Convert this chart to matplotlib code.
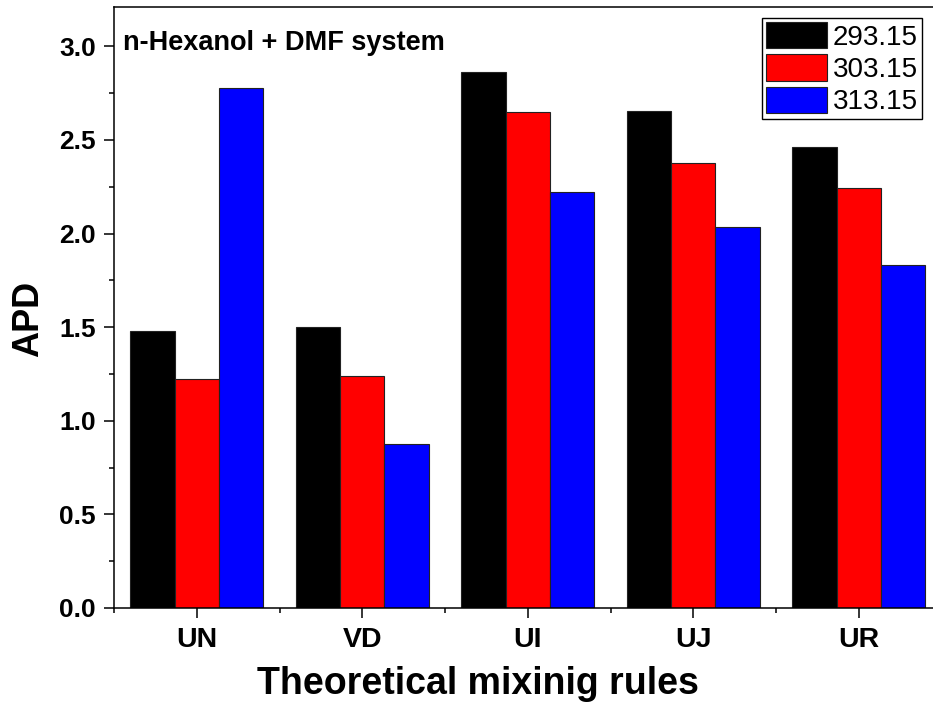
import numpy as np
import matplotlib
matplotlib.use("Agg")
import matplotlib.pyplot as plt
from matplotlib.ticker import MultipleLocator, FixedLocator, FormatStrFormatter

plt.rcParams['font.family'] = ['Liberation Sans', 'DejaVu Sans']

rules = ['UN', 'VD', 'UI', 'UJ', 'UR']
temps = ['293.15', '303.15', '313.15']
apd_293 = [1.48, 1.50, 2.863, 2.655, 2.461]
apd_303 = [1.225, 1.24, 2.65, 2.378, 2.243]
apd_313 = [2.775, 0.875, 2.222, 2.037, 1.832]
colors = ['#000000', '#ff0000', '#0000ff']

fig = plt.figure(figsize=(9.33, 7.09), dpi=100)
ax = fig.add_axes([0.1222, 0.1425, 0.887, 0.8477])

x = np.arange(len(rules))
w = 0.268
for i, (vals, lab, c) in enumerate(zip([apd_293, apd_303, apd_313], temps, colors)):
    ax.bar(x + (i - 1) * w, vals, width=w, color=c, edgecolor='#222222',
           linewidth=0.8, label=lab)

ax.set_xlim(-0.5, 4.5)
ax.set_ylim(0, 3.21)
ax.set_xticks(x)
ax.set_xticklabels(rules, fontsize=20.5, fontweight='bold')
ax.xaxis.set_minor_locator(FixedLocator(np.arange(-0.5, 4.6, 1.0)))
ax.yaxis.set_major_locator(MultipleLocator(0.5))
ax.yaxis.set_minor_locator(MultipleLocator(0.25))
ax.yaxis.set_major_formatter(FormatStrFormatter('%.1f'))
for lab in ax.get_yticklabels():
    lab.set_fontsize(19)
    lab.set_fontweight('bold')

ax.tick_params(which='major', length=7, width=1.1, direction='out', pad=6)
ax.tick_params(which='minor', length=3.6, width=1.1, direction='out')
ax.tick_params(axis='x', which='major', pad=7)
ax.tick_params(top=False, right=False, which='both')
for s in ax.spines.values():
    s.set_linewidth(1.1)

ax.set_ylabel('APD', fontsize=26, fontweight='bold')
ax.yaxis.set_label_coords(-0.082, 0.481)
ax.set_xlabel('Theoretical mixinig rules', fontsize=27, fontweight='bold')
ax.xaxis.set_label_coords(0.44, -0.0965)

ax.text(0.011, 0.962, 'n-Hexanol + DMF system', transform=ax.transAxes,
        fontsize=19.5, fontweight='bold', va='top', ha='left')

leg = ax.legend(loc='upper right', bbox_to_anchor=(922 / 933, 1 - 18 / 709),
                bbox_transform=fig.transFigure, fontsize=20, frameon=True,
                fancybox=False, edgecolor='black', framealpha=1,
                handlelength=2.2, handleheight=1.08, handletextpad=0.2,
                labelspacing=0.13, borderpad=0.15, borderaxespad=0)
leg.get_frame().set_linewidth(1.0)

fig.savefig('out.png', dpi=100)
